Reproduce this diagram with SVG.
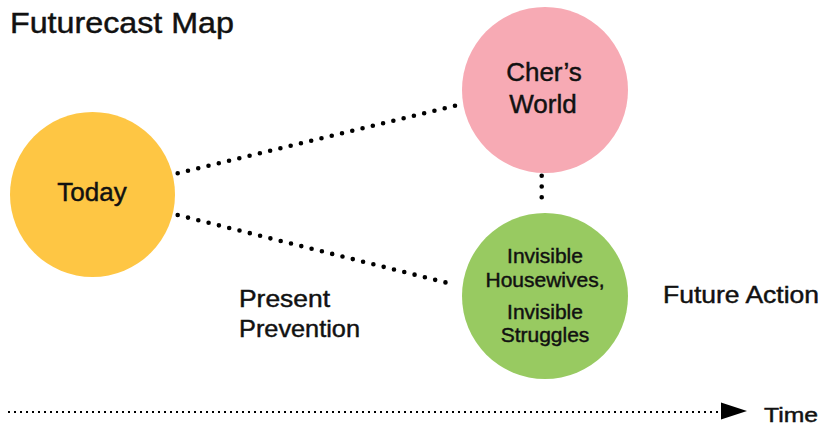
<svg xmlns="http://www.w3.org/2000/svg" width="822" height="427" viewBox="0 0 822 427">
  <style>
    text { font-family: "Liberation Sans", "DejaVu Sans", sans-serif; fill: #111; stroke: #111; stroke-width: 0.45; }
    .node-label { text-anchor: middle; }
    .dots { fill: none; stroke: #000; stroke-width: 4.6; stroke-linecap: round; }
    .timeline { fill: none; stroke: #000; stroke-width: 2; stroke-dasharray: 2 4; }
  </style>

  <rect width="822" height="427" fill="#ffffff"/>

  <text x="10" y="33" font-size="29" textLength="224" lengthAdjust="spacingAndGlyphs">Futurecast Map</text>

  <!-- dotted connectors between the circles -->
  <g id="connectors">
    <path class="dots" d="M177.7 173.3 L455 105.7" stroke-dasharray="0 10.57"/>
    <path class="dots" d="M177.7 215 L455.7 285" stroke-dasharray="0 10.62"/>
    <path class="dots" d="M541.7 175.7 L541.7 208" stroke-dasharray="0 10.77"/>
  </g>

  <g id="today">
    <circle cx="92.5" cy="194.5" r="82.5" fill="#FEC644"/>
    <text class="node-label" x="92" y="201" font-size="26">Today</text>
  </g>

  <g id="chers-world">
    <circle cx="545" cy="90" r="83" fill="#F7AAB4"/>
    <text class="node-label" x="544" y="81" font-size="26">Cher’s</text>
    <text class="node-label" x="543" y="113" font-size="26">World</text>
  </g>

  <g id="invisible-housewives">
    <circle cx="545" cy="296" r="83" fill="#98CA61"/>
    <text class="node-label" x="545" y="263" font-size="21">Invisible</text>
    <text class="node-label" x="545" y="287" font-size="21">Housewives,</text>
    <text class="node-label" x="545" y="319" font-size="21">Invisible</text>
    <text class="node-label" x="545" y="342" font-size="21">Struggles</text>
  </g>

  <g id="present-prevention">
    <text x="239" y="307" font-size="24" textLength="91" lengthAdjust="spacingAndGlyphs">Present</text>
    <text x="239" y="337" font-size="24" textLength="121" lengthAdjust="spacingAndGlyphs">Prevention</text>
  </g>

  <g id="future-action">
    <text x="663" y="303" font-size="24" textLength="156" lengthAdjust="spacingAndGlyphs">Future Action</text>
  </g>

  <!-- time axis -->
  <g id="time-axis">
    <line class="timeline" x1="8" y1="412" x2="720" y2="412"/>
    <polygon points="721,402.5 747,411 721,419.5" fill="#000"/>
    <text x="764" y="422" font-size="21" stroke-width="0.7" textLength="54" lengthAdjust="spacingAndGlyphs">Time</text>
  </g>
</svg>
